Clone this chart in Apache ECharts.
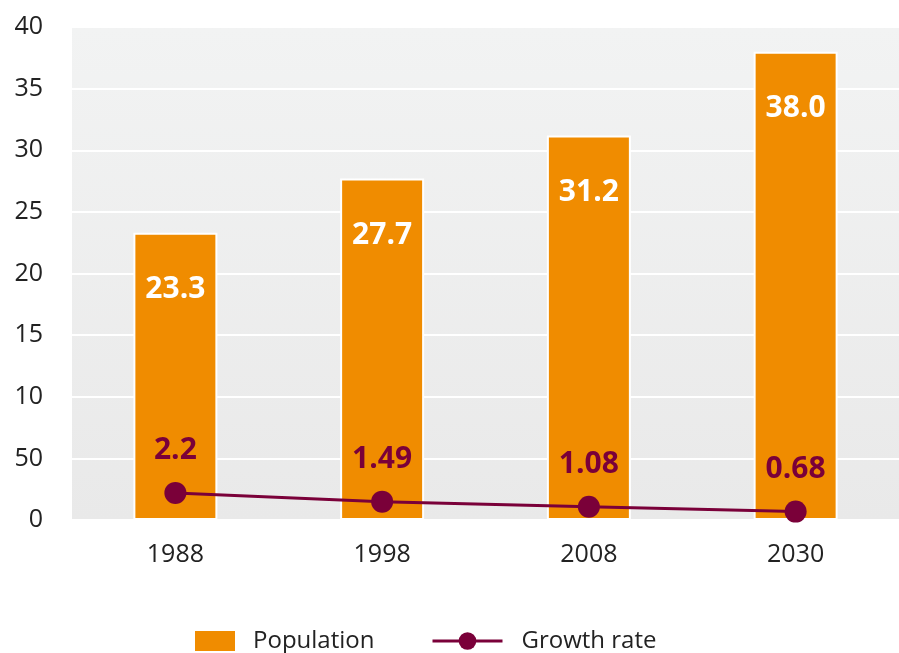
<!DOCTYPE html>
<html>
<head>
<meta charset="utf-8">
<script src="https://cdn.jsdelivr.net/npm/echarts@6/dist/echarts.min.js"></script>
<style>
  html, body { margin: 0; padding: 0; background: #fff; }
  #box { width: 899px; height: 653px; }
</style>
</head>
<body>
<div id="box"></div>
<script>
// categories and values
var years = ['1988', '1998', '2008', '2030']
var population = [23.3, 27.7, 31.2, 38.0]
var growthRate = [2.2, 1.49, 1.08, 0.68]
// tick labels as printed on the original (note "50" at 5)
var yTickLabels = { 0: '0', 5: '50', 10: '10', 15: '15', 20: '20', 25: '25', 30: '30', 35: '35', 40: '40' }

var font = '"Open Sans", Lato, sans-serif'
var orange = '#F08C00'
var maroon = '#7A0039'

var myChart = echarts.init(document.getElementById('box'))

myChart.setOption({
  animation: false,
  textStyle: { fontFamily: font },
  legend: [
    {
      left: 188,
      top: 624,
      itemWidth: 42,
      itemHeight: 22,
      textStyle: { fontSize: 24, color: '#222', fontFamily: font, padding: [0, 0, 0, 12] },
      data: [{ name: 'Population', icon: 'rect' }]
    },
    {
      left: 426,
      top: 624,
      itemWidth: 70,
      itemHeight: 22,
      lineStyle: { width: 3 },
      textStyle: { fontSize: 24, color: '#222', fontFamily: font, padding: [0, 0, 0, 14] },
      data: [{ name: 'Growth rate' }]
    }
  ],
  grid: { left: 72, right: 0, top: 27, bottom: 133, containLabel: false },
  xAxis: {
    type: 'category',
    data: years,
    axisLine: { show: false },
    axisTick: { show: false },
    axisLabel: { fontSize: 25, color: '#222', margin: 22, fontFamily: font }
  },
  yAxis: {
    type: 'value',
    min: 0,
    max: 40,
    interval: 5,
    axisLine: { show: false },
    axisTick: { show: false },
    splitLine: { show: true, lineStyle: { color: '#fff', width: 2 } },
    splitArea: { show: false },
    axisLabel: {
      fontSize: 25,
      color: '#222',
      margin: 29,
      fontFamily: font,
      formatter: function(v) { return yTickLabels[v] }
    }
  },
  graphic: [{
    type: 'rect',
    z: -10,
    shape: { x: 72, y: 27, width: 827, height: 493 },
    style: {
      fill: new echarts.graphic.LinearGradient(0, 0, 0, 1, [
        { offset: 0, color: '#f2f3f3' },
        { offset: 1, color: '#e9e9e9' }
      ])
    }
  }],
  series: [
    {
      name: 'Population',
      type: 'bar',
      data: population,
      barWidth: 84,
      itemStyle: { color: orange, borderColor: '#fff', borderWidth: 2 },
      label: {
        show: true,
        position: 'insideTop',
        distance: 42,
        color: '#fff',
        fontSize: 30,
        fontWeight: 'bold',
        fontFamily: font,
        formatter: function(p) { return p.value.toFixed(1) }
      }
    },
    {
      name: 'Growth rate',
      type: 'line',
      data: growthRate,
      symbol: 'circle',
      symbolSize: 22,
      lineStyle: { color: maroon, width: 3 },
      itemStyle: { color: maroon },
      label: {
        show: true,
        position: 'top',
        distance: 16,
        color: maroon,
        fontSize: 30,
        fontWeight: 'bold',
        fontFamily: font
      },
      z: 5
    }
  ]
})
</script>
</body>
</html>
